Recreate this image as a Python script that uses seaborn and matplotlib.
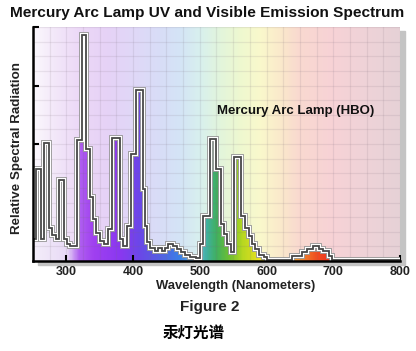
import numpy as np
import matplotlib
matplotlib.use("Agg")
import matplotlib.pyplot as plt
import seaborn as sns
from matplotlib.colors import LinearSegmentedColormap
from matplotlib.patches import Rectangle
from matplotlib.ticker import MultipleLocator

# ---------------------------------------------------------------
# Daten: Stufenkurve (Wellenlaenge der Stufe, relative Strahlung)
# ---------------------------------------------------------------
wavelength = [250, 255, 262, 266, 274, 279, 284, 289, 296, 301, 306, 316, 323,
              330, 335, 340, 345, 350, 356, 363, 369, 380, 385, 391, 397, 405,
              415, 418, 421, 426, 433, 438, 443, 448, 453, 460, 466, 472, 478,
              485, 494, 500, 505, 516, 525, 531, 536, 541, 546, 551, 562, 568,
              573, 578, 583, 588, 596, 601, 638, 653, 660, 670, 678, 685, 693,
              698, 800]
radiation = [0.38, 1.58, 0.38, 2.01, 0.57, 0.45, 0.38, 1.38, 0.38, 0.29, 0.26,
             2.07, 3.86, 1.92, 1.09, 0.71, 0.48, 0.34, 0.29, 0.54, 2.11, 0.38,
             0.26, 0.60, 1.83, 2.92, 1.23, 0.60, 0.32, 0.23, 0.17, 0.23, 0.17,
             0.23, 0.29, 0.25, 0.20, 0.15, 0.11, 0.07, 0.05, 0.29, 0.77, 2.09,
             1.57, 0.63, 0.46, 0.29, 0.15, 1.77, 0.77, 0.57, 0.43, 0.29, 0.20,
             0.11, 0.06, 0.02, 0.09, 0.15, 0.20, 0.25, 0.20, 0.17, 0.09, 0.02,
             0.02]

x_ticks = [300, 400, 500, 600, 700, 800]

# Farben Hintergrund (pastell) und Fuellung (Spektrum)
bg_stops = [250, 280, 320, 360, 400, 440, 470, 500, 530, 560, 590, 620, 650, 700, 760, 800]
bg_colors = ['#fbf8fd', '#f3e8f9', '#ecd8f7', '#e6d2f6', '#e0d8f8', '#d8ddf7',
             '#d4e4f6', '#d8f0ee', '#e2f5dc', '#eef8d0', '#f9f9cc', '#fbeacb',
             '#f9d9d0', '#f7d2d6', '#edd3d8', '#e6d1d6']
fill_stops = [250, 300, 318, 340, 380, 410, 440, 470, 495, 510, 525, 545, 565, 590, 620, 650, 675, 700, 800]
fill_colors = ['#f4eefa', '#e8daf6', '#b060f0', '#a040f0', '#8a38f0', '#6a48e8',
               '#5560e0', '#3a80e8', '#70b8e0', '#40b0a0', '#40b060', '#70c030',
               '#b8d820', '#e8e020', '#f0c828', '#f09030', '#f05020', '#f03020', '#f03020']

# ---------------------------------------------------------------
# Plot
# ---------------------------------------------------------------
sns.set_theme(style="white")
plt.rcParams['font.family'] = ['Liberation Sans', 'Noto Sans CJK SC', 'DejaVu Sans']

W, H = 416, 351
fig = plt.figure(figsize=(W / 100, H / 100), dpi=100)
fig.patch.set_facecolor('white')
ax_l, ax_b, ax_w, ax_h = 33 / W, 1 - 261 / H, 367 / W, 234 / H
ax = fig.add_axes([ax_l, ax_b, ax_w, ax_h])

# Schatten hinter dem Diagramm
fig.patches.append(Rectangle((ax_l + 5 / W, ax_b - 4 / H), ax_w, ax_h,
                             transform=fig.transFigure, color='#c4c4c4',
                             zorder=-1))

xmin, xmax, ymin, ymax = 250, 800, 0, 4
grad = np.linspace(xmin, xmax, 600).reshape(1, -1)

def make_cmap(stops, colors):
    pos = [(s - xmin) / (xmax - xmin) for s in stops]
    return LinearSegmentedColormap.from_list('c', list(zip(pos, colors)))

ax.imshow(grad, cmap=make_cmap(bg_stops, bg_colors), extent=[xmin, xmax, ymin, ymax],
          aspect='auto', origin='lower', zorder=0, vmin=xmin, vmax=xmax)

# Spektrumfarbige Fuellung, auf die Kurve zugeschnitten
poly = ax.fill_between(wavelength, radiation, step='post', color='none', lw=0)
fill_img = ax.imshow(grad, cmap=make_cmap(fill_stops, fill_colors),
                     extent=[xmin, xmax, ymin, ymax], aspect='auto', origin='lower',
                     zorder=1, vmin=xmin, vmax=xmax)
fill_img.set_clip_path(poly.get_paths()[0], ax.transData)

# Stufenlinie: Schatten, weisser Rand, dunkler Kern
for lw, col, z in [(4.2, '#9a9a9a', 3), (2.9, 'white', 4), (1.3, '#484848', 5)]:
    sns.lineplot(x=wavelength, y=radiation, drawstyle='steps-post', estimator=None,
                 color=col, lw=lw, ax=ax, zorder=z, solid_joinstyle='miter')

ax.set_xlim(xmin, xmax)
ax.set_ylim(ymin, ymax)

# Raster
ax.xaxis.set_minor_locator(MultipleLocator(25))
ax.yaxis.set_minor_locator(MultipleLocator(0.25))
ax.grid(which='both', color='#7a6a7a', alpha=0.13, lw=0.9)
ax.set_axisbelow(False)
for gl in ax.get_xgridlines() + ax.get_ygridlines():
    gl.set_zorder(0.5)

ax.set_xticks(x_ticks)
ax.set_xticklabels([str(t) for t in x_ticks], fontsize=9, fontweight='bold', color='#222222')
ax.set_yticks([1, 2, 3, 4])
ax.set_yticklabels([])
ax.tick_params(which='major', direction='in', length=4, width=1.5, color='black',
               bottom=True, left=True, pad=3.5)
ax.tick_params(which='minor', length=0)

for side in ['top', 'right']:
    ax.spines[side].set_visible(False)
for side in ['left', 'bottom']:
    ax.spines[side].set_color('black')
    ax.spines[side].set_linewidth(1.8)
    ax.spines[side].set_zorder(6)

# Texte
fig.text(207 / W, 1 - 12.5 / H, 'Mercury Arc Lamp UV and Visible Emission Spectrum',
         ha='center', va='center', fontsize=11.1, fontweight='bold', color='#111111')
fig.text(17 / W, 1 - 148 / H, 'Relative Spectral Radiation', rotation=90,
         ha='center', va='center', fontsize=9.6, fontweight='bold', color='#222222')
fig.text(236 / W, 1 - 286 / H, 'Wavelength (Nanometers)',
         ha='center', va='center', fontsize=9.4, fontweight='bold', color='#222222')
fig.text(210 / W, 1 - 306.5 / H, 'Figure 2',
         ha='center', va='center', fontsize=11, fontweight='bold', color='#222222')
fig.text(194 / W, 1 - 333 / H, '汞灯光谱', family=['Noto Sans CJK SC', 'DejaVu Sans'],
         ha='center', va='center', fontsize=11.2, fontweight='bold', color='black')
ax.text(526, 2.57, 'Mercury Arc Lamp (HBO)', ha='left', va='center',
        fontsize=9.5, fontweight='bold', color='#111111', zorder=7)

fig.savefig('out.png', dpi=100)
plt.close(fig)
